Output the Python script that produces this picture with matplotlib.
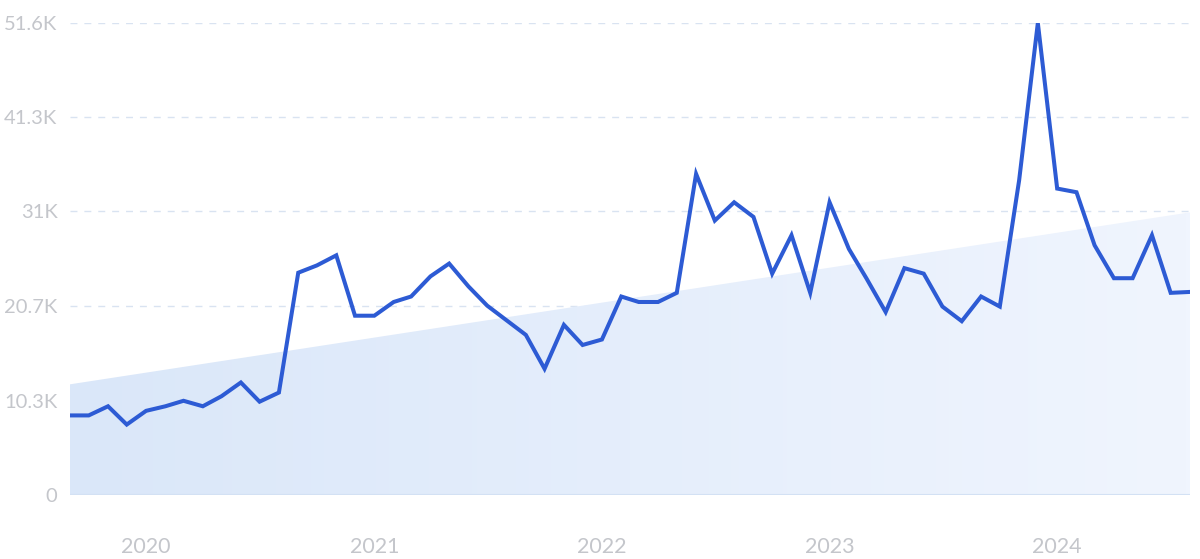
import numpy as np
import pandas as pd
import matplotlib
matplotlib.use('Agg')
from matplotlib import pyplot as plt
from matplotlib import dates as mdates
from matplotlib.colors import LinearSegmentedColormap
from matplotlib.patches import Polygon

# monthly values, Sep 2019 .. Aug 2024
months = pd.date_range('2019-09-01', '2024-08-01', freq='MS')
values = [8.7, 8.7, 9.7, 7.7, 9.2, 9.7, 10.3, 9.7, 10.8, 12.3,
          10.2, 11.2, 24.3, 25.1, 26.2, 19.6, 19.6, 21.1, 21.7, 23.9,
          25.3, 22.8, 20.7, 19.1, 17.5, 13.8, 18.6, 16.4, 17.0, 21.7,
          21.1, 21.1, 22.1, 35.1, 30.0, 32.0, 30.4, 24.2, 28.4, 22.1,
          32.0, 26.9, 23.7, 20.0, 24.8, 24.2, 20.6, 19.0, 21.7, 20.6,
          34.4, 51.6, 33.5, 33.1, 27.3, 23.7, 23.7, 28.4, 22.1, 22.2]
values = np.array(values) * 1000

# trend line start / end
trend = [12.1e3, 30.9e3]

yticks = [0, 10.3e3, 20.7e3, 31e3, 41.3e3, 51.6e3]
ylabels = ['0', '10.3K', '20.7K', '31K', '41.3K', '51.6K']
years = ['2020', '2021', '2022', '2023', '2024']

plt.rcParams['font.family'] = ['Lato', 'DejaVu Sans']

fig = plt.figure(figsize=(12, 5.59), dpi=100)
ax = fig.add_axes([70 / 1200, 64 / 559, 1120 / 1200, 472 / 559])

x = mdates.date2num(months)
x0, x1 = x[0], x[-1]

# gradient area under trend line
cmap = LinearSegmentedColormap.from_list('fill', ['#dae7f9', '#f0f5fe'])
grad = np.linspace(0, 1, 256).reshape(1, -1)
img = ax.imshow(grad, cmap=cmap, aspect='auto', extent=[x0, x1, 0, trend[1]],
                zorder=1, origin='lower')
poly = Polygon([[x0, 0], [x0, trend[0]], [x1, trend[1]], [x1, 0]],
               closed=True, transform=ax.transData, facecolor='none',
               edgecolor='none')
ax.add_patch(poly)
img.set_clip_path(poly)

for yt in yticks[1:]:
    ax.axhline(yt, color='#d9e3f1', lw=1, ls=(0, (5, 5)), zorder=0)
ax.axhline(0, color='#d3e1f4', lw=1.5, zorder=2)

ax.plot(x, values, color='#2d5bd4', lw=2.9, zorder=3,
        solid_joinstyle='miter')

ax.set_xlim(x0, x1)
ax.set_ylim(0, 51.6e3)
ax.set_yticks(yticks)
ax.set_yticklabels(ylabels)
year_pos = [mdates.date2num(pd.Timestamp(y + '-01-01')) for y in years]
ax.set_xticks(year_pos)
ax.set_xticklabels(years)

for s in ax.spines.values():
    s.set_visible(False)
ax.tick_params(axis='both', length=0, colors='#c4c6cb', labelsize=14.5)
ax.tick_params(axis='x', labelsize=15.5)
ax.tick_params(axis='y', pad=9)
ax.tick_params(axis='x', pad=30)

fig.savefig('out.png', dpi=100, facecolor='white')
